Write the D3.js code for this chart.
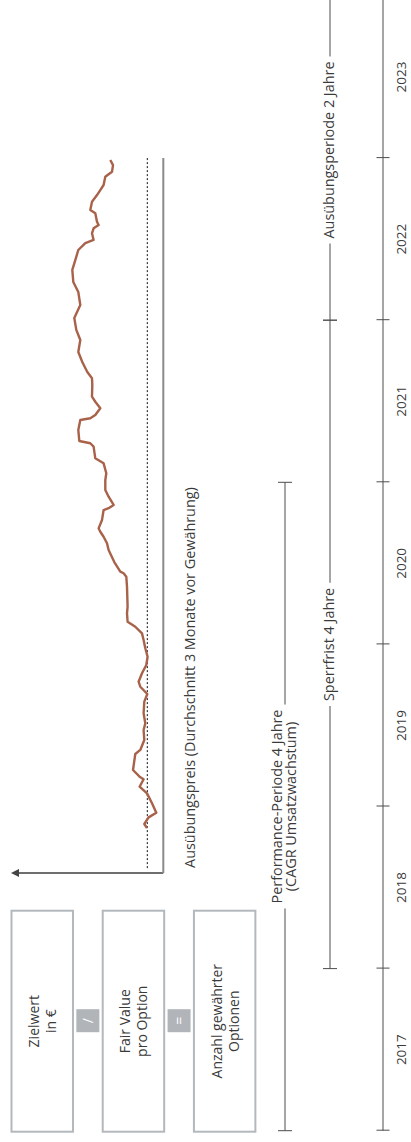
<!DOCTYPE html>
<html>
<head>
<meta charset="utf-8">
<script src="https://cdn.jsdelivr.net/npm/d3@7"></script>
<style>
  html, body { margin: 0; padding: 0; background: #fff; }
  svg { display: block; font-family: "Open Sans", "Noto Sans", sans-serif; }
</style>
</head>
<body>
<svg id="chart" width="411" height="1142"></svg>
<script>
// Year ticks of the timeline
const yearTicks = [2017, 2018, 2019, 2020, 2021, 2022, 2023, 2024];
const yearLabels = [2017, 2018, 2019, 2020, 2021, 2022, 2023];

// Share price path (decimal year, indexed price)
const priceDates = [
  2018.866, 2018.892, 2018.933, 2018.962, 2019.020, 2019.081, 2019.122, 2019.168, 2019.184, 2019.225,
  2019.324, 2019.349, 2019.410, 2019.472, 2019.513, 2019.575, 2019.647, 2019.694, 2019.739, 2019.770,
  2019.822, 2019.873, 2019.924, 2019.976, 2020.027, 2020.068, 2020.109, 2020.140, 2020.192, 2020.233,
  2020.356, 2020.418, 2020.439, 2020.449, 2020.508, 2020.582, 2020.624, 2020.664, 2020.695, 2020.716,
  2020.767, 2020.829, 2020.840, 2020.860, 2020.911, 2020.953, 2021.014, 2021.056, 2021.117, 2021.148,
  2021.220, 2021.241, 2021.255, 2021.323, 2021.384, 2021.395, 2021.415, 2021.457, 2021.497, 2021.528,
  2021.600, 2021.642, 2021.680, 2021.742, 2021.804, 2021.878, 2021.940, 2022.014, 2022.094, 2022.174,
  2022.236, 2022.310, 2022.371, 2022.433, 2022.476, 2022.495, 2022.536, 2022.567, 2022.587, 2022.608,
  2022.660, 2022.680, 2022.731, 2022.772, 2022.803, 2022.834, 2022.885, 2022.916, 2022.957, 2022.988
];
const priceValues = [
  100.3, 103.0, 98.7, 91.0, 95.3, 100.3, 107.7, 103.7, 107.7, 114.3,
  112.0, 107.0, 103.0, 103.7, 102.0, 103.7, 103.0, 100.0, 107.0, 108.7,
  105.3, 101.0, 99.7, 102.0, 103.7, 105.3, 112.0, 119.7, 120.3, 119.7,
  120.3, 121.0, 123.7, 127.0, 133.0, 138.7, 140.3, 143.7, 147.0, 148.7,
  145.3, 143.7, 138.7, 133.7, 138.7, 142.0, 142.0, 141.0, 143.7, 152.0,
  153.7, 157.0, 168.0, 169.0, 167.0, 157.0, 152.0, 147.0, 152.0, 155.3,
  155.0, 155.3, 160.0, 165.0, 169.0, 167.0, 171.0, 173.0, 167.0, 169.0,
  174.0, 175.0, 172.0, 169.0, 162.0, 153.7, 155.3, 153.7, 148.7, 150.3,
  152.0, 157.0, 155.3, 150.3, 147.0, 143.7, 142.0, 135.3, 134.3, 137.0
];

// Exercise price level and the span of the value axis
const exercisePrice = 100;
const valueAxisStart = 2018.59;
const exerciseLineStart = 2018.62;
const valueAxisEnd = 2023.0;

// Formula boxes
const formulaLines = [["Zielwert", "in €"], ["Fair Value", "pro Option"], ["Anzahl gewährter", "Optionen"]];
const formulaOperators = ["/", "="];

// Plan periods
const periodNames = ["Performance-Periode 4 Jahre", "Sperrfrist 4 Jahre", "Ausübungsperiode 2 Jahre"];
const periodSubtitles = ["(CAGR Umsatzwachstum)", "", ""];
const periodStarts = [2017, 2018, 2022];
const periodEnds = [2021, 2022, 2024.1];
const periodRows = [0, 1, 1];

// ---- drawing (chart drawn in landscape, then turned a quarter turn) ----
const W = 1142, H = 411;
const textColor = "#3a3a3a";
const ruleColor = "#4d4d4d";

const svg = d3.select("#chart");
const g = svg.append("g").attr("transform", `translate(0,${W}) rotate(-90)`);

const x = d3.scaleLinear().domain([2017, 2024]).range([11.3, 1146]);
const y = d3.scaleLinear().domain([84, 234]).range([163.3, 13.3]);

// Formula boxes
const boxBand = d3.scaleBand().domain(d3.range(formulaLines.length)).range([11.5, 255.4]).paddingInner(0.326);
const boxLeft = x(2017) - 1, boxRight = 231.3;
const boxMid = (boxLeft + boxRight) / 2;
const boxes = g.append("g");
formulaLines.forEach((lines, i) => {
  const top = boxBand(i);
  boxes.append("rect")
    .attr("x", boxLeft).attr("y", top)
    .attr("width", boxRight - boxLeft).attr("height", boxBand.bandwidth())
    .attr("fill", "none").attr("stroke", "#b3b8bd").attr("stroke-width", 2);
  const cy = top + boxBand.bandwidth() / 2;
  boxes.append("text")
    .attr("x", boxMid).attr("text-anchor", "middle")
    .attr("fill", textColor).attr("font-size", 14)
    .selectAll("tspan").data(lines).join("tspan")
    .attr("x", boxMid)
    .attr("y", (d, j) => cy - 3 + j * 17)
    .text(d => d);
});
formulaOperators.forEach((op, i) => {
  const cy = boxBand(i) + boxBand.bandwidth() + boxBand.step() * boxBand.paddingInner() / 2;
  const s = 23;
  boxes.append("rect")
    .attr("x", boxMid - s / 2 + 0.5).attr("y", cy - s / 2)
    .attr("width", s).attr("height", s)
    .attr("fill", "#b1b5b9");
  boxes.append("text")
    .attr("x", boxMid + 0.5).attr("y", cy + 5)
    .attr("text-anchor", "middle").attr("fill", "#fff").attr("font-size", 14)
    .text(op);
});

// Value axis with arrow
const axisU = x(valueAxisStart);
g.append("defs").append("marker")
  .attr("id", "arrow").attr("viewBox", "0 0 10 10").attr("refX", 5).attr("refY", 5)
  .attr("markerWidth", 4).attr("markerHeight", 4).attr("orient", "auto")
  .append("path").attr("d", "M0,0L10,5L0,10Z").attr("fill", "#444");
g.append("line")
  .attr("x1", axisU).attr("x2", axisU)
  .attr("y1", y.range()[0]).attr("y2", 15)
  .attr("stroke", "#6e6e6e").attr("stroke-width", 2)
  .attr("marker-end", "url(#arrow)");

// Baseline of the price panel
g.append("line")
  .attr("x1", axisU).attr("x2", x(valueAxisEnd))
  .attr("y1", y.range()[0]).attr("y2", y.range()[0])
  .attr("stroke", "#8a8a8a").attr("stroke-width", 2);

// Exercise price level (dotted)
g.append("line")
  .attr("x1", x(exerciseLineStart)).attr("x2", x(valueAxisEnd))
  .attr("y1", y(exercisePrice)).attr("y2", y(exercisePrice))
  .attr("stroke", "#111").attr("stroke-width", 1).attr("stroke-dasharray", "2,2");

g.append("text")
  .attr("x", x(valueAxisStart) + 5).attr("y", 195)
  .attr("fill", textColor).attr("font-size", 14.4)
  .text("Ausübungspreis (Durchschnitt 3 Monate vor Gewährung)");

// Share price line
const pricePoints = priceDates.map((d, i) => [d, priceValues[i]]);
g.append("path")
  .datum(pricePoints)
  .attr("fill", "none").attr("stroke", "#a9624a").attr("stroke-width", 2.4)
  .attr("stroke-linejoin", "round")
  .attr("d", d3.line().x(d => x(d[0])).y(d => y(d[1])));

// Period brackets
const rowV = [285, 330];
const tickHalf = 7;
periodNames.forEach((name, i) => {
  const v = rowV[periodRows[i]];
  const u0 = x(periodStarts[i]), u1 = x(periodEnds[i]);
  const mid = (u0 + u1) / 2;
  const grp = g.append("g");
  const t = grp.append("text")
    .attr("x", mid).attr("text-anchor", "middle")
    .attr("fill", textColor).attr("font-size", 14.4);
  if (periodSubtitles[i]) {
    t.append("tspan").attr("x", mid).attr("y", v - 3).text(name);
    t.append("tspan").attr("x", mid).attr("y", v + 11).text(periodSubtitles[i]);
  } else {
    t.append("tspan").attr("x", mid).attr("y", v + 4).text(name);
  }
  const halfW = d3.max(t.selectAll("tspan").nodes(), n => n.getComputedTextLength()) / 2;
  const pad = 5;
  grp.append("line").attr("x1", u0).attr("x2", mid - halfW - pad).attr("y1", v).attr("y2", v)
    .attr("stroke", ruleColor).attr("stroke-width", 1);
  grp.append("line").attr("x1", mid + halfW + pad).attr("x2", u1).attr("y1", v).attr("y2", v)
    .attr("stroke", ruleColor).attr("stroke-width", 1);
  [u0, u1].forEach(u => grp.append("line")
    .attr("x1", u).attr("x2", u).attr("y1", v - tickHalf).attr("y2", v + tickHalf)
    .attr("stroke", ruleColor).attr("stroke-width", 1));
});

// Timeline axis
const axisV = 383;
const timeAxis = d3.axisBottom(x).tickValues(yearTicks).tickSize(0).tickFormat("");
const axG = g.append("g").attr("transform", `translate(0,${axisV})`).call(timeAxis);
axG.select(".domain").attr("stroke", ruleColor).attr("d", `M${x(2017)},0H${W + 20}`);
axG.selectAll(".tick line").attr("y1", -6.5).attr("y2", 6.5).attr("stroke", ruleColor);
g.append("g").selectAll("text").data(yearLabels).join("text")
  .attr("x", d => (x(d) + x(d + 1)) / 2).attr("y", 406)
  .attr("text-anchor", "middle").attr("fill", textColor).attr("font-size", 13.5)
  .text(d => d);
</script>
</body>
</html>
